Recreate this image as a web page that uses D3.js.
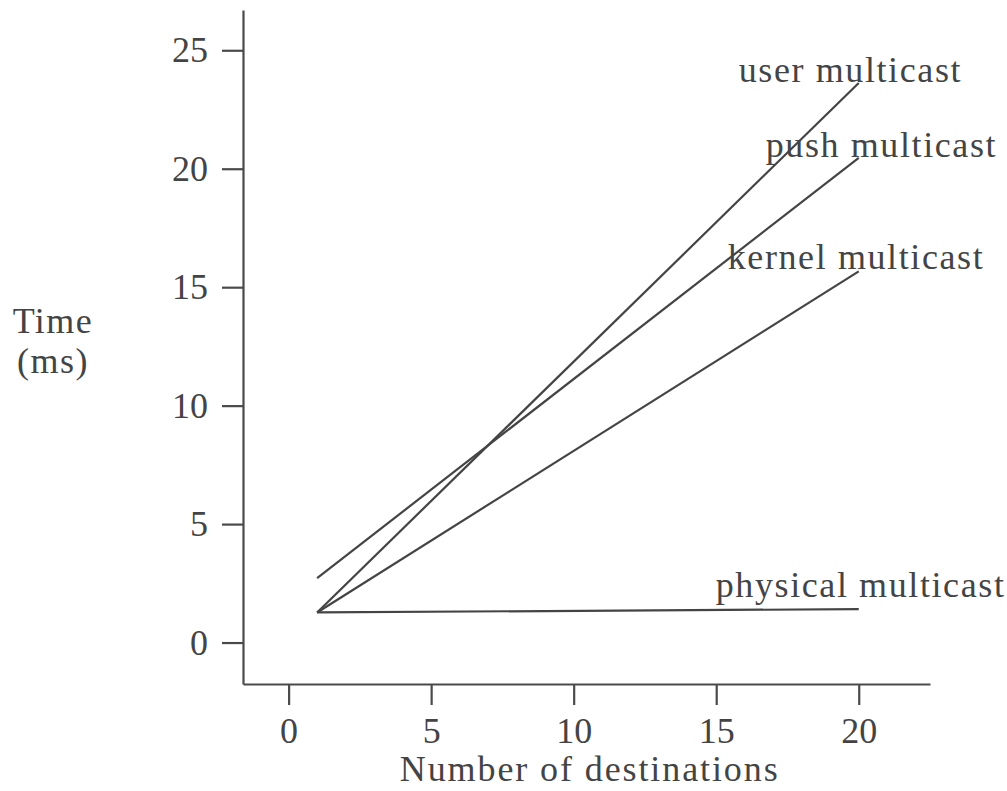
<!DOCTYPE html>
<html>
<head>
<meta charset="utf-8">
<script src="https://cdn.jsdelivr.net/npm/d3@7"></script>
<style>
  body { margin: 0; background: #fff; }
  svg text { font-family: "Liberation Serif", serif; fill: #444; }
</style>
</head>
<body>
<svg id="chart" width="1007" height="791"></svg>
<script>
// data (x = number of destinations, y = time in ms)
var seriesNames = ["user multicast", "push multicast", "kernel multicast", "physical multicast"];
var xEnds = [1, 20];
var userTimes = [1.27, 23.62];
var pushTimes = [2.72, 20.46];
var kernelTimes = [1.27, 15.67];
var physicalTimes = [1.27, 1.41];
var xTicks = [0, 5, 10, 15, 20];
var yTicks = [0, 5, 10, 15, 20, 25];

// label offsets from the line end (px)
var labelOffsets = [[-120, -1], [-93, -1], [-131, -2], [-143, -12]];

var svg = d3.select("#chart");

var xScale = d3.scaleLinear().domain([-1.6, 22.5]).range([243, 930]);
var yScale = d3.scaleLinear().domain([-1.75, 26.7]).range([684, 10]);

//axes
var xAxis = d3.axisBottom(xScale).tickValues(xTicks).tickSize(21).tickSizeOuter(0).tickPadding(14);
var yAxis = d3.axisLeft(yScale).tickValues(yTicks).tickSize(21).tickSizeOuter(0).tickPadding(14);

var gx = svg.append("g").attr("transform", "translate(0," + yScale.range()[0] + ")").call(xAxis);
var gy = svg.append("g").attr("transform", "translate(" + xScale.range()[0] + ",0)").call(yAxis);

[gx, gy].forEach(function (g) {
    g.select(".domain").attr("stroke", "#4a4a4a").attr("stroke-width", 2.2);
    g.selectAll(".tick line").attr("stroke", "#4a4a4a").attr("stroke-width", 2.2);
    g.selectAll(".tick text").style("font-size", "36px").attr("fill", "#444")
        .style("font-family", "'Liberation Serif', serif");
});
gx.selectAll(".tick text").attr("dy", "0.68em");

// lines
var seriesData = [userTimes, pushTimes, kernelTimes, physicalTimes].map(function (v, i) {
    return { name: seriesNames[i], pts: xEnds.map(function (x, j) { return { x: x, y: v[j] }; }) };
});

var line = d3.line()
    .x(function (d) { return xScale(d.x); })
    .y(function (d) { return yScale(d.y); });

svg.selectAll(".series")
    .data(seriesData)
    .enter().append("path")
    .attr("class", "series")
    .attr("d", function (d) { return line(d.pts); })
    .attr("fill", "none")
    .attr("stroke", "#444")
    .attr("stroke-width", 2.2);

svg.selectAll(".label")
    .data(seriesData)
    .enter().append("text")
    .attr("class", "label")
    .attr("x", function (d, i) { return xScale(d.pts[1].x) + labelOffsets[i][0]; })
    .attr("y", function (d, i) { return yScale(d.pts[1].y) + labelOffsets[i][1]; })
    .style("font-size", "36px")
    .style("letter-spacing", "1.6px")
    .text(function (d) { return d.name; });

// axis titles
svg.append("text")
    .attr("x", 53).attr("y", 333)
    .attr("text-anchor", "middle")
    .style("font-size", "36px")
    .style("letter-spacing", "1.5px")
    .text("Time");
svg.append("text")
    .attr("x", 53).attr("y", 373)
    .attr("text-anchor", "middle")
    .style("font-size", "36px")
    .style("letter-spacing", "1.5px")
    .text("(ms)");
svg.append("text")
    .attr("x", xScale(10) + 16).attr("y", 781)
    .attr("text-anchor", "middle")
    .style("font-size", "36px")
    .style("letter-spacing", "1.9px")
    .text("Number of destinations");
</script>
</body>
</html>
